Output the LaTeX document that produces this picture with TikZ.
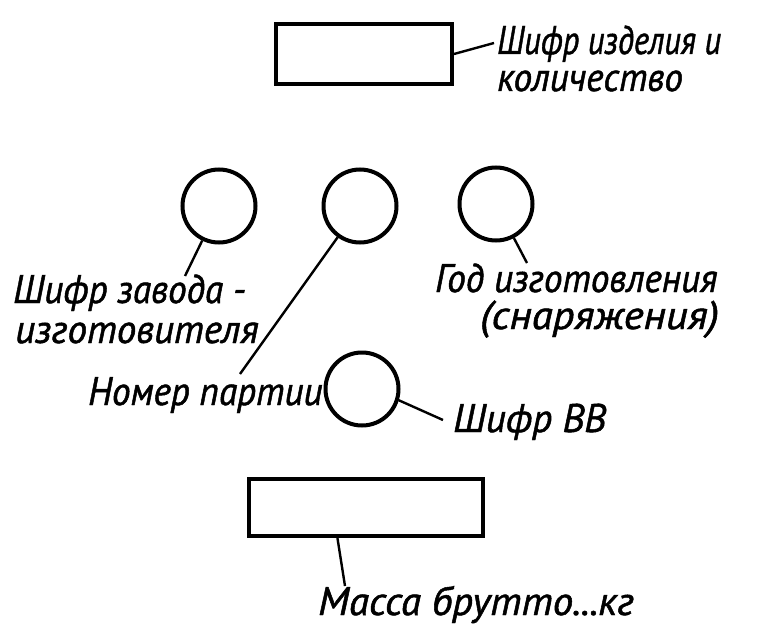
\documentclass[tikz,border=0pt]{standalone}
\usepackage{graphicx}
\usepackage{fontspec}
\newfontfamily\labfont[FakeStretch=0.93,FakeBold=1.2]{PT Sans Italic}
\usetikzlibrary{calc}
\newcommand{\hs}[2]{\scalebox{#1}[1]{#2}}
\begin{document}
\begin{tikzpicture}[x=1pt,y=-1pt,
  shapeline/.style={draw=black,line width=4pt},
  ring/.style={shapeline,circle,minimum size=73pt,inner sep=0pt},
  plate/.style={shapeline,rectangle,inner sep=0pt},
  lead/.style={draw=black,line width=2.4pt},
  lab/.style={anchor=base west,inner sep=0pt,font=\labfont\fontsize{40}{38}\selectfont}]
\useasboundingbox[fill=white] (0,0) rectangle (758,626);
% shapes
\node[plate,minimum width=176pt,minimum height=60pt] (r1) at (364,54) {};
\node[ring] (c1) at (219,206) {};
\node[ring] (c2) at (360,206) {};
\node[ring] (c3) at (496,204) {};
\node[ring] (c4) at (362,389) {};
\node[plate,minimum width=234pt,minimum height=57pt] (r2) at (366,507.5) {};
% labels
\node[lab] (t1a) at (497,54) {\hs{0.87}{Шифр изделия и}};
\node[lab] (t1b) at (497,91) {количество};
\node[lab] (t2a) at (13,303) {Шифр завода -};
\node[lab] (t2b) at (15,343) {\hs{1.05}{изготовителя}};
\node[lab] (t3a) at (435,292) {Год изготовления};
\node[lab] (t3b) at (480,329) {\hs{1.15}{(снаряжения)}};
\node[lab] (t4) at (88,405) {Номер партии};
\node[lab] (t5) at (453,432) {\hs{1.05}{Шифр ВВ}};
\node[lab] (t6) at (318,615) {\hs{1.1}{Масса брутто...кг}};
% connector ends
\coordinate (e1) at (494,43);
\coordinate (e2) at (185,276);
\coordinate (e3) at (240,374);
\coordinate (e4) at (527,263);
\coordinate (e5) at (443,420);
\coordinate (e6) at (345,586);
% connectors
\draw[lead] (r1.east) -- (e1);
\draw[lead] (c1) -- (e2);
\draw[lead] (c2) -- (e3);
\draw[lead] (c3) -- (e4);
\draw[lead] (c4.-17) -- (e5);
\draw[lead] ($(r2.south west)!0.38!(r2.south east)$) -- (e6);
\end{tikzpicture}
\end{document}
